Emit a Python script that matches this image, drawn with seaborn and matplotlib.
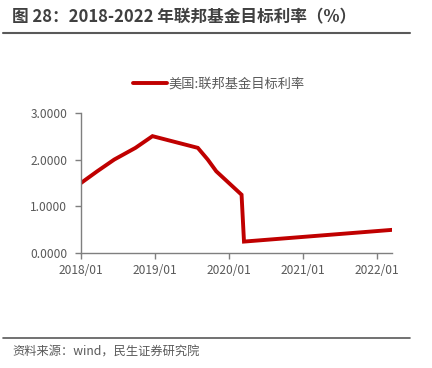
import matplotlib
matplotlib.use("Agg")
import matplotlib.pyplot as plt
import matplotlib.dates as mdates
import matplotlib.ticker as mticker
import pandas as pd
import seaborn as sns

# rate change dates and target rate (%)
dates = [
    "2018-01-01", "2018-03-22", "2018-06-14", "2018-09-27", "2018-12-20",
    "2019-08-01", "2019-09-19", "2019-10-31", "2020-03-04", "2020-03-16",
    "2022-03-17",
]
rates = [1.50, 1.75, 2.00, 2.25, 2.50, 2.25, 2.00, 1.75, 1.25, 0.25, 0.50]
series_name = "美国:联邦基金目标利率"
x_ticks = ["2018-01-01", "2019-01-01", "2020-01-01", "2021-01-01", "2022-01-01"]
y_ticks = [0, 1, 2, 3]

title = "图 28：2018-2022 年联邦基金目标利率（%）"
source = "资料来源：wind，民生证券研究院"

sns.set_style("white")
plt.rcParams["font.family"] = ["Noto Sans CJK SC", "DejaVu Sans"]

df = pd.DataFrame({"date": pd.to_datetime(dates), "rate": rates})

fig = plt.figure(figsize=(4.32, 3.68), dpi=100)
ax = fig.add_axes([0.1875, 0.3117, 0.9074 - 0.1875, 0.6937 - 0.3117])

sns.lineplot(data=df, x="date", y="rate", color="#C00000", lw=2.8,
             label=series_name, ax=ax, solid_joinstyle="miter")

grey = "#595959"
ax.set_xlim(df["date"].min(), df["date"].max())
ax.set_ylim(0, 3)
ax.set_xticks(pd.to_datetime(x_ticks))
ax.xaxis.set_major_formatter(mdates.DateFormatter("%Y/%m"))
ax.set_yticks(y_ticks)
ax.yaxis.set_major_formatter(mticker.FormatStrFormatter("%.4f"))
ax.set_xlabel("")
ax.set_ylabel("")
for side in ["top", "right"]:
    ax.spines[side].set_visible(False)
for side in ["left", "bottom"]:
    ax.spines[side].set_color("#7f7f7f")
    ax.spines[side].set_linewidth(1.0)
ax.tick_params(axis="both", direction="out", length=4, width=1.0,
               color="#7f7f7f", labelcolor=grey, labelsize=8.6,
               left=True, bottom=True)
ax.tick_params(axis="y", pad=6)
ax.tick_params(axis="x", pad=4)

ax.legend(loc="center", bbox_to_anchor=(0.442, 1.205), frameon=False,
          fontsize=9.5, handlelength=2.6, handletextpad=0.1,
          labelcolor=grey)

fig.text(0.028, 0.952, title, fontsize=12, fontweight="bold",
         color="#404040", ha="left", va="center")
fig.add_artist(plt.Line2D([0.007, 0.95], [0.91, 0.91], color="#595959",
                          lw=1.5, transform=fig.transFigure))
fig.add_artist(plt.Line2D([0.007, 0.95], [0.082, 0.082], color="#595959",
                          lw=1.2, transform=fig.transFigure))
fig.text(0.028, 0.044, source, fontsize=8.8, color=grey,
         ha="left", va="center")

fig.savefig("out.png", dpi=100)
